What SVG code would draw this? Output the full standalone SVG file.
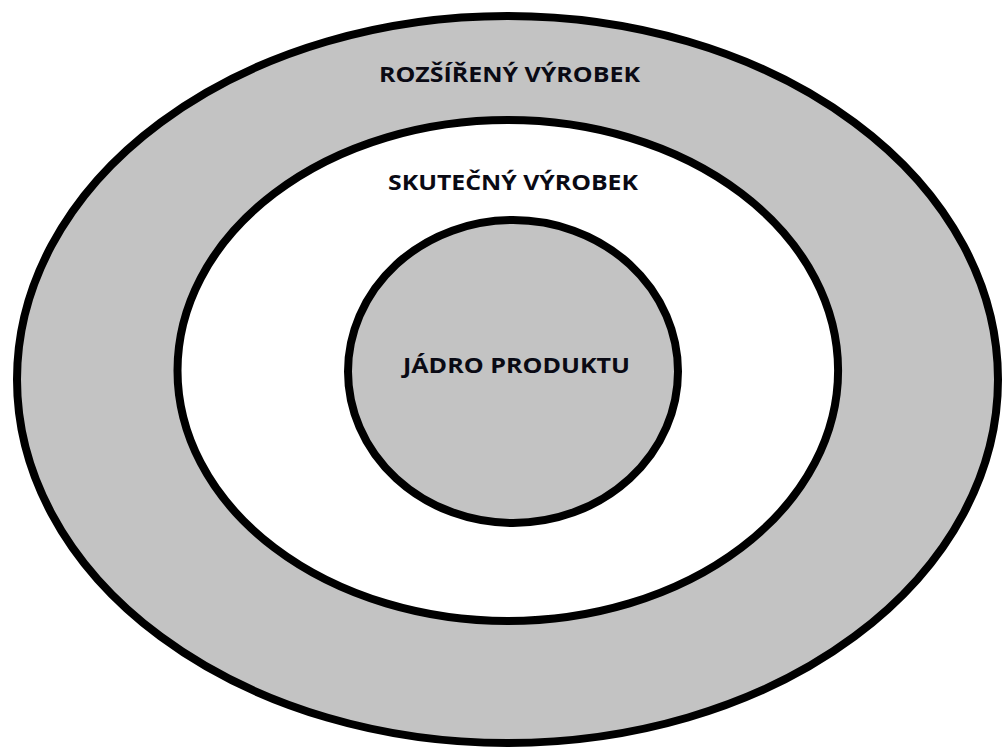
<svg xmlns="http://www.w3.org/2000/svg" width="1008" height="751" viewBox="0 0 1008 751">
<style>
.ring{stroke:#000;stroke-width:8}
.gray{fill:#c3c3c3}
.white{fill:#fff}
.lbl{font-family:"Open Sans","Liberation Sans",sans-serif;font-weight:700;font-size:21px;fill:#0a0a14;text-anchor:middle}
</style>
<rect width="1008" height="751" fill="#fff"/>
<g id="outer">
<ellipse class="ring gray" cx="507.5" cy="379.5" rx="490.5" ry="363.5"/>
<text class="lbl" x="509.5" y="82" textLength="261" lengthAdjust="spacingAndGlyphs">ROZŠÍŘENÝ VÝROBEK</text>
</g>
<g id="middle">
<ellipse class="ring white" cx="507.8" cy="370.5" rx="330.3" ry="250.5"/>
<text class="lbl" x="513" y="190" textLength="250" lengthAdjust="spacingAndGlyphs">SKUTEČNÝ VÝROBEK</text>
</g>
<g id="inner">
<ellipse class="ring gray" cx="513" cy="371.5" rx="165" ry="151.5"/>
<text class="lbl" x="516.5" y="373" textLength="227" lengthAdjust="spacingAndGlyphs">JÁDRO PRODUKTU</text>
</g>
<g id="connectors"/>
</svg>
